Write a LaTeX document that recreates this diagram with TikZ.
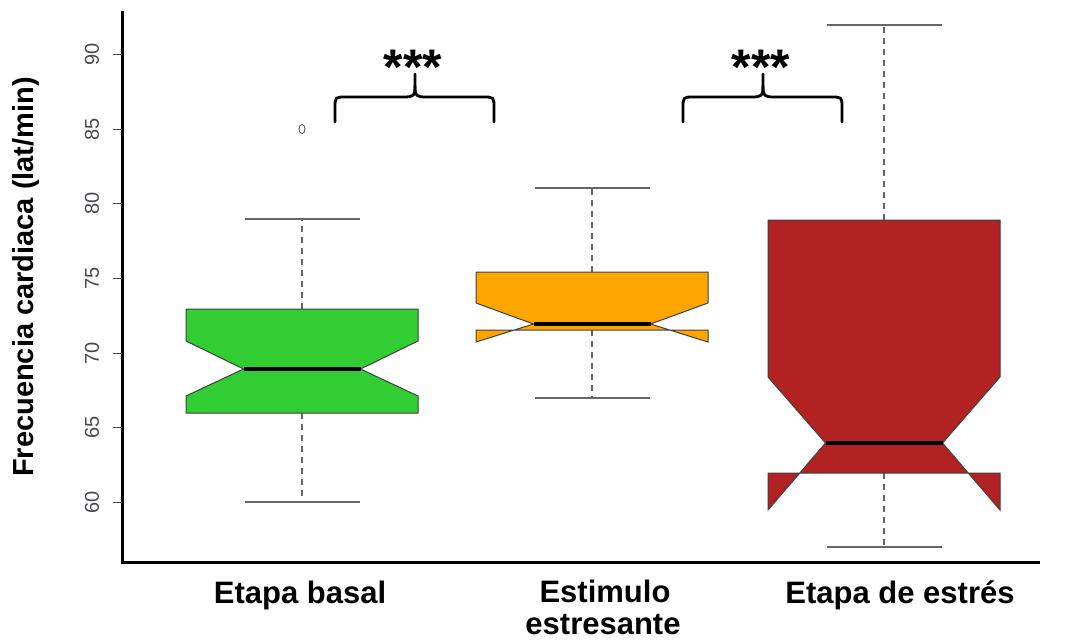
\documentclass[tikz,border=0pt]{standalone}
\usepackage{fontspec}
\setmainfont{Liberation Sans}
\definecolor{tickgray}{RGB}{72,72,82}
\definecolor{boxgreen}{RGB}{50,205,50}
\definecolor{boxorange}{RGB}{255,165,0}
\definecolor{boxred}{RGB}{178,34,34}
\tikzset{
  axisline/.style={line width=3pt, line join=miter},
  tickline/.style={line width=1pt, draw=black!70},
  ticklab/.style={rotate=90, font=\fontsize{20}{20}\selectfont, text=tickgray, inner sep=0pt},
  boxshape/.style={draw=black!75, line width=1pt, line join=miter},
  medline/.style={line width=4pt},
  whisk/.style={draw=black!60, line width=1.2pt, dash pattern=on 6pt off 5pt},
  wcap/.style={draw=black!60, line width=1.2pt},
  bracket/.style={line width=2.8pt, line cap=round, line join=round},
  starlab/.style={font=\fontsize{50}{50}\selectfont\bfseries, inner sep=0pt, anchor=base},
  catlab/.style={font=\fontsize{31}{31}\selectfont\bfseries, inner sep=0pt, anchor=base},
  ylab/.style={font=\fontsize{29}{29}\selectfont\bfseries, inner sep=0pt, rotate=90},
}
\newcommand\nbox[7]{%
  \filldraw[boxshape, fill=#7] ({#1-116},#2) -- ({#1+116},#2) -- ({#1+116},#3) -- ({#1+58.5},#4)
    -- ({#1+116},#6) -- ({#1+116},#5) -- ({#1-116},#5) -- ({#1-116},#6) -- ({#1-58.5},#4)
    -- ({#1-116},#3) -- cycle;
  \draw[medline] ({#1-58.5},#4) -- ({#1+58.5},#4);
}
\newcommand\whiskers[5]{% cx boxtop wtop q1 wbot
  \draw[whisk] (#1,#2) -- (#1,#3);
  \draw[wcap] ({#1-57.5},#3) -- ({#1+57.5},#3);
  \draw[whisk] (#1,#4) -- (#1,#5);
  \draw[wcap] ({#1-57.5},#5) -- ({#1+57.5},#5);
}
\begin{document}
\begin{tikzpicture}[x=1pt,y=-1pt]
\useasboundingbox (0,0) rectangle (1070,640);

% axes
\draw[axisline] (122,11) -- (122,562) -- (1040,562);

% y ticks
\foreach \v/\yy in {60/502,65/427.4,70/353,75/278.3,80/203.6,85/129,90/54.3}{
  \draw[tickline] (113,\yy) -- (122,\yy);
  \node[ticklab] (t\v) at (92,\yy) {\v};
}

% y label
\node[ylab] (ylabel) at (26,277) {Frecuencia cardiaca (lat/min)};

% whiskers
\whiskers{302}{309}{219}{413}{502}
\whiskers{592}{272}{188}{330}{398}
\whiskers{884}{220}{25}{473}{547}

% boxes
\nbox{302}{309}{341}{369}{413}{396}{boxgreen}
\nbox{592}{272}{303}{324}{330}{342}{boxorange}
\nbox{884}{220}{377}{443}{473}{510}{boxred}

% outlier
\draw[black!60, line width=1pt] (302,129) ellipse [x radius=3, y radius=4.5];

% brackets
\draw[bracket] (335,122) -- (335,108) .. controls (335,97) .. (346,97) -- (403,97)
  .. controls (414,97) and (415,96) .. (415,86) -- (415,74);
\draw[bracket] (494,122) -- (494,108) .. controls (494,97) .. (483,97) -- (427,97)
  .. controls (416,97) and (415,96) .. (415,86);
\draw[bracket] (683,122) -- (683,108) .. controls (683,97) .. (694,97) -- (751,97)
  .. controls (762,97) and (763,96) .. (763,86) -- (763,74);
\draw[bracket] (842,122) -- (842,108) .. controls (842,97) .. (831,97) -- (775,97)
  .. controls (764,97) and (763,96) .. (763,86);

\node[starlab] (s1) at (413,84) {***};
\node[starlab] (s2) at (761,84) {***};

% category labels
\node[catlab] (c1) at (300,603) {Etapa basal};
\node[catlab] (c2a) at (605,602) {Estimulo};
\node[catlab] (c2b) at (603,634) {estresante};
\node[catlab] (c3) at (900,603) {Etapa de estrés};
\end{tikzpicture}
\end{document}
